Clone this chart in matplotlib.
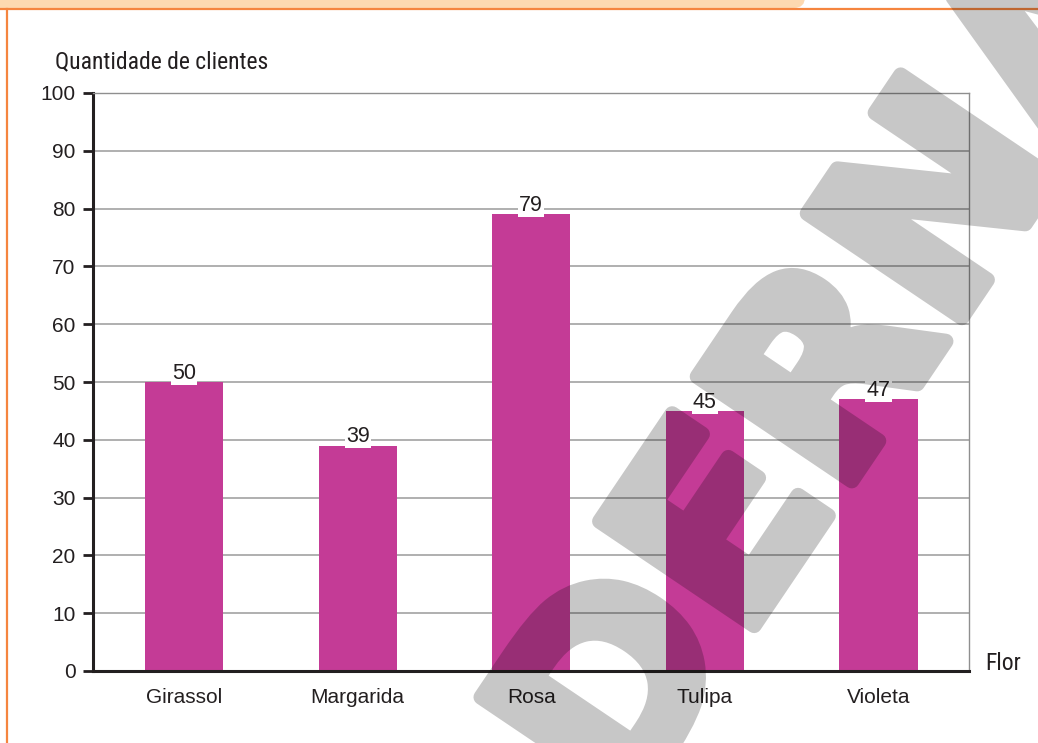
import numpy as np
import matplotlib
matplotlib.use('Agg')
import matplotlib.pyplot as plt
import matplotlib.patheffects as pe
from matplotlib import font_manager as fm
from matplotlib.patches import FancyBboxPatch
from matplotlib.lines import Line2D
from matplotlib.transforms import IdentityTransform
from matplotlib.backends.backend_agg import FigureCanvasAgg

flores = ['Girassol', 'Margarida', 'Rosa', 'Tulipa', 'Violeta']
clientes = [50, 39, 79, 45, 47]
y_ticks = list(range(0, 101, 10))

W, H, DPI = 1038, 743, 100
BAR = '#c43b96'
INK = '#231f20'
ORANGE = '#f5853f'
BAND = '#fdd9b0'

plt.rcParams['font.family'] = ['Liberation Sans', 'DejaVu Sans']

# axis titles use a narrow face when one is installed
installed = {f.name for f in fm.fontManager.ttflist}
if 'Roboto Condensed' in installed:
    NARROW, NARROW_SIZE = 'Roboto Condensed', 17
elif 'Liberation Sans Narrow' in installed:
    NARROW, NARROW_SIZE = 'Liberation Sans Narrow', 16.5
else:
    NARROW, NARROW_SIZE = 'Roboto', 14.5

fig = plt.figure(figsize=(W / DPI, H / DPI), dpi=DPI)
fig.patch.set_facecolor('white')

# plot area in pixel terms: x 93..969, y 93..671 (from top)
ax = fig.add_axes([93 / W, 1 - 671 / H, 876 / W, 578 / H])
x = np.arange(len(flores))
ax.set_axisbelow(True)
ax.yaxis.grid(True, color='#9a9a9a', linewidth=1.1)
ax.bar(x, clientes, width=0.45, color=BAR, zorder=2)
ax.set_xlim(-0.524, len(flores) - 1 + 0.521)
ax.set_ylim(0, 100)
ax.set_yticks(y_ticks)
ax.set_xticks(x, flores)
ax.tick_params(axis='y', length=7.5, width=2, pad=5, labelsize=15,
               colors=INK)
ax.tick_params(axis='x', length=0, pad=12, labelsize=15, labelcolor=INK)
for side in ('left', 'bottom'):
    ax.spines[side].set_linewidth(2.2)
    ax.spines[side].set_color(INK)
for side in ('top', 'right'):
    ax.spines[side].set_linewidth(1)
    ax.spines[side].set_color('#8f8f8f')

for xi, v in zip(x, clientes):
    ax.annotate(f'{v}', (xi, v), xytext=(0, 2.3), textcoords='offset points',
                ha='center', va='baseline', fontsize=15.5, color=INK,
                zorder=4,
                bbox=dict(boxstyle='square,pad=0.05', fc='white', ec='none'))

fig.text(55 / W, 1 - 62 / H, 'Quantidade de clientes', va='center',
         ha='left', family=NARROW, weight='normal', fontsize=NARROW_SIZE,
         color=INK)
fig.text(985 / W, 1 - 663 / H, 'Flor', va='center', ha='left',
         family=NARROW, weight='normal', fontsize=NARROW_SIZE, color=INK)

# orange header strip and frame
band = FancyBboxPatch((-30, H - 8), 835, 40,
                      boxstyle='round,pad=0,rounding_size=11',
                      transform=IdentityTransform(), fc=BAND, ec='none')
fig.add_artist(band)
fig.add_artist(Line2D([0, W], [H - 9, H - 9], transform=IdentityTransform(),
                      color=ORANGE, linewidth=1.6))
fig.add_artist(Line2D([7, 7], [0, H - 9], transform=IdentityTransform(),
                      color=ORANGE, linewidth=1.6))

# watermark: render a mask off-screen, then lay it over as translucent grey
mfig = plt.figure(figsize=(W / DPI, H / DPI), dpi=DPI)
mfig.patch.set_facecolor('white')
mfig.text(710 / W, 1 - 564 / H, 'MODERNA', rotation=56, rotation_mode='anchor',
          ha='center', va='center', family='DejaVu Sans', weight='bold',
          fontsize=184, color='black',
          path_effects=[pe.withStroke(linewidth=11, foreground='black',
                                      capstyle='round', joinstyle='round')])
canvas = FigureCanvasAgg(mfig)
canvas.draw()
buf = np.asarray(canvas.buffer_rgba()).astype(float)
plt.close(mfig)
mask = 1 - buf[..., 0] / 255
overlay = np.zeros((H, W, 4))
overlay[..., 3] = 0.22 * mask
fig.figimage(overlay, 0, 0, origin='upper', zorder=10)

fig.savefig('out.png', dpi=DPI)
